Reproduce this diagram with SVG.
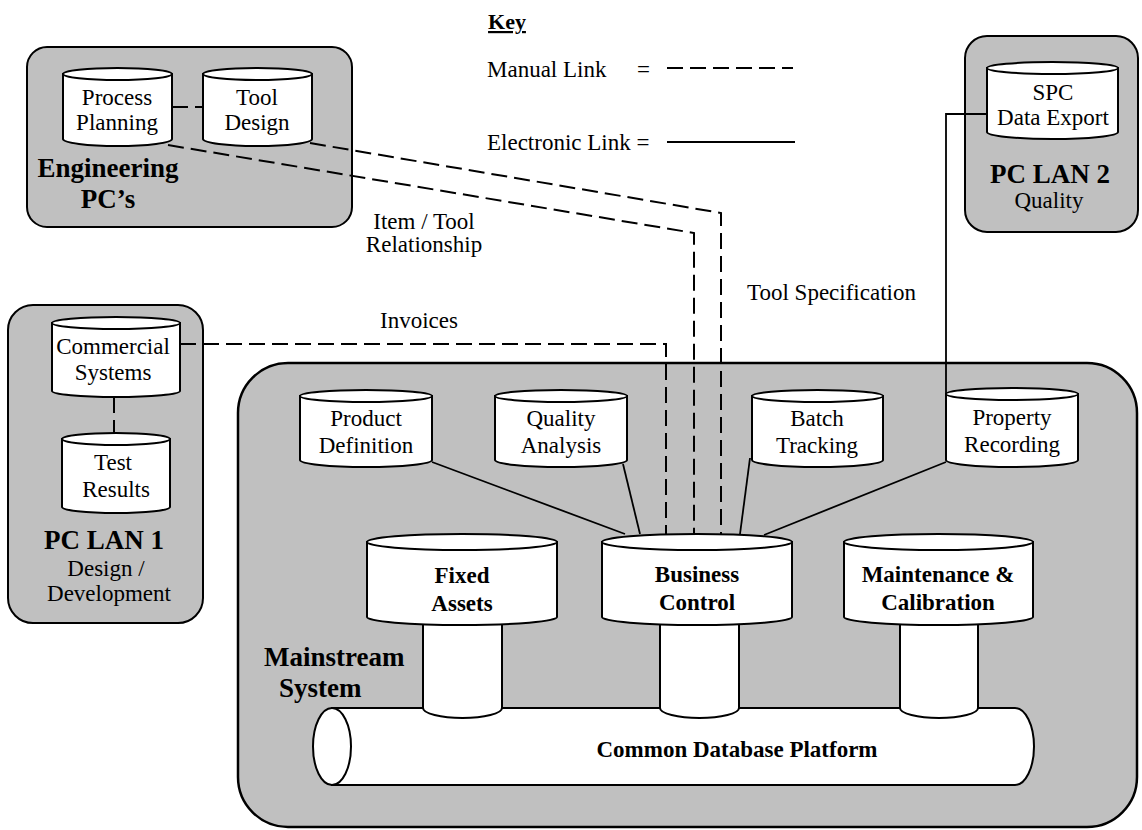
<svg xmlns="http://www.w3.org/2000/svg" width="1142" height="830" viewBox="0 0 1142 830">
  <style>
    .box { fill: #c0c0c0; stroke: #000; stroke-width: 2; }
    .cyl { fill: #fff; stroke: #000; stroke-width: 2; }
    .dash { fill: none; stroke: #000; stroke-width: 2; stroke-dasharray: 16 7; }
    .solid { fill: none; stroke: #000; stroke-width: 1.8; }
    text { font-family: "Liberation Serif", "Times New Roman", serif; fill: #000; }
    .t { font-size: 23px; text-anchor: middle; }
    .l { font-size: 23px; }
    .cb { font-size: 23px; font-weight: bold; text-anchor: middle; }
    .rb { font-size: 27px; font-weight: bold; text-anchor: middle; }
  </style>

  <!-- Legend -->
  <g id="key">
    <text x="507" y="29" font-size="22" font-weight="bold" text-anchor="middle" text-decoration="underline">Key</text>
    <text class="l" x="487" y="77">Manual Link</text>
    <text class="l" x="637" y="77">=</text>
    <line class="dash" x1="667" y1="68" x2="793" y2="68"/>
    <text class="l" x="487" y="150">Electronic Link =</text>
    <line class="solid" x1="667" y1="142" x2="795" y2="142"/>
  </g>

  <!-- Group containers -->
  <g id="engineering-pcs">
    <rect class="box" x="27" y="47" width="325" height="180" rx="20"/>
    <text class="rb" x="108" y="177">Engineering</text>
    <text class="rb" x="108" y="208">PC’s</text>
  </g>
  <g id="pc-lan-2">
    <rect class="box" x="965" y="36" width="173" height="196" rx="22"/>
    <text class="rb" x="1050" y="183">PC LAN 2</text>
    <text class="t" x="1049" y="208">Quality</text>
  </g>
  <g id="pc-lan-1">
    <rect class="box" x="8" y="305" width="195" height="318" rx="25"/>
    <text class="rb" x="104" y="549">PC LAN 1</text>
    <text class="t" x="106" y="576">Design /</text>
    <text class="t" x="109" y="601">Development</text>
  </g>
  <g id="mainstream-system">
    <rect class="box" x="238" y="363" width="899" height="464" rx="50" style="stroke-width:2.5"/>
    <text x="264" y="666" font-size="27" font-weight="bold">Mainstream</text>
    <text x="279" y="697" font-size="27" font-weight="bold">System</text>
  </g>

  <!-- Links -->
  <g id="connectors">
    <path class="dash" d="M172,107 H203"/>
    <path class="dash" d="M310,143 L721,213 V534"/>
    <path class="dash" d="M168,145 L694,233 V534"/>
    <path class="dash" d="M180,344 H666 V534"/>
    <path class="dash" d="M114,397 V433"/>
    <path class="solid" d="M432,462 L625,534"/>
    <path class="solid" d="M623,464 L640,534"/>
    <path class="solid" d="M750,458 L740,534"/>
    <path class="solid" d="M946,462 L764,535"/>
    <path class="solid" d="M946,394 V114 H987"/>
    <text class="t" x="424" y="229">Item / Tool</text>
    <text class="t" x="424" y="252">Relationship</text>
    <text class="l" x="747" y="300">Tool Specification</text>
    <text class="l" x="380" y="328">Invoices</text>
  </g>

  <!-- Shared database platform and risers -->
  <g id="common-database-platform">
    <path class="cyl" d="M332,708 H1015 A19,38.5 0 0 1 1015,785 H332 Z"/>
    <ellipse class="cyl" cx="332" cy="746.5" rx="19" ry="38.5"/>
    <text class="cb" x="737" y="757">Common Database Platform</text>
  </g>
  <g id="risers">
    <path class="cyl" d="M423,600 V708 A39.5,10 0 0 0 502,708 V600 Z"/>
    <path class="cyl" d="M660,600 V708 A39.5,10 0 0 0 739,708 V600 Z"/>
    <path class="cyl" d="M900,600 V708 A39,10 0 0 0 978,708 V600 Z"/>
  </g>

  <!-- Main databases -->
  <g id="fixed-assets">
    <path class="cyl" d="M367,542 V617 A95,8 0 0 0 557,617 V542 Z"/>
    <ellipse class="cyl" cx="462" cy="542" rx="95" ry="8"/>
    <text class="cb" x="462" y="583">Fixed</text>
    <text class="cb" x="462" y="611">Assets</text>
  </g>
  <g id="business-control">
    <path class="cyl" d="M602,542 V617 A95,8 0 0 0 792,617 V542 Z"/>
    <ellipse class="cyl" cx="697" cy="542" rx="95" ry="8"/>
    <text class="cb" x="697" y="582">Business</text>
    <text class="cb" x="697" y="610">Control</text>
  </g>
  <g id="maintenance-calibration">
    <path class="cyl" d="M844,542 V617 A94.5,8 0 0 0 1033,617 V542 Z"/>
    <ellipse class="cyl" cx="938.5" cy="542" rx="94.5" ry="8"/>
    <text class="cb" x="938" y="582">Maintenance &amp;</text>
    <text class="cb" x="938" y="610">Calibration</text>
  </g>

  <!-- Satellite databases -->
  <g id="product-definition">
    <path class="cyl" d="M300,396 V460 A66,7 0 0 0 432,460 V396 Z"/>
    <ellipse class="cyl" cx="366" cy="396" rx="66" ry="6"/>
    <text class="t" x="366" y="426">Product</text>
    <text class="t" x="366" y="453">Definition</text>
  </g>
  <g id="quality-analysis">
    <path class="cyl" d="M495,396 V460 A66,7 0 0 0 627,460 V396 Z"/>
    <ellipse class="cyl" cx="561" cy="396" rx="66" ry="6"/>
    <text class="t" x="561" y="426">Quality</text>
    <text class="t" x="561" y="453">Analysis</text>
  </g>
  <g id="batch-tracking">
    <path class="cyl" d="M752,396 V460 A65.5,7 0 0 0 883,460 V396 Z"/>
    <ellipse class="cyl" cx="817.5" cy="396" rx="65.5" ry="6"/>
    <text class="t" x="817" y="426">Batch</text>
    <text class="t" x="817" y="453">Tracking</text>
  </g>
  <g id="property-recording">
    <path class="cyl" d="M946,394 V460 A66,7 0 0 0 1078,460 V394 Z"/>
    <ellipse class="cyl" cx="1012" cy="394" rx="66" ry="6"/>
    <text class="t" x="1012" y="425">Property</text>
    <text class="t" x="1012" y="452">Recording</text>
  </g>
  <g id="process-planning">
    <path class="cyl" d="M63,74 V139 A54.5,7 0 0 0 172,139 V74 Z"/>
    <ellipse class="cyl" cx="117.5" cy="74" rx="54.5" ry="6"/>
    <text class="t" x="117" y="105">Process</text>
    <text class="t" x="117" y="130">Planning</text>
  </g>
  <g id="tool-design">
    <path class="cyl" d="M203,74 V139 A54.5,7 0 0 0 312,139 V74 Z"/>
    <ellipse class="cyl" cx="257.5" cy="74" rx="54.5" ry="6"/>
    <text class="t" x="257" y="105">Tool</text>
    <text class="t" x="257" y="130">Design</text>
  </g>
  <g id="spc-data-export">
    <path class="cyl" d="M987,68 V132 A65.5,7 0 0 0 1118,132 V68 Z"/>
    <ellipse class="cyl" cx="1052.5" cy="68" rx="65.5" ry="6"/>
    <text class="t" x="1053" y="100">SPC</text>
    <text class="t" x="1053" y="125">Data Export</text>
  </g>
  <g id="commercial-systems">
    <path class="cyl" d="M52,323 V391 A64,6 0 0 0 180,391 V323 Z"/>
    <ellipse class="cyl" cx="116" cy="323" rx="64" ry="6"/>
    <text class="t" x="113" y="354">Commercial</text>
    <text class="t" x="113" y="380">Systems</text>
  </g>
  <g id="test-results">
    <path class="cyl" d="M62,439 V507 A54,6 0 0 0 170,507 V439 Z"/>
    <ellipse class="cyl" cx="116" cy="439" rx="54" ry="6"/>
    <text class="t" x="113" y="470">Test</text>
    <text class="t" x="116" y="497">Results</text>
  </g>
</svg>
